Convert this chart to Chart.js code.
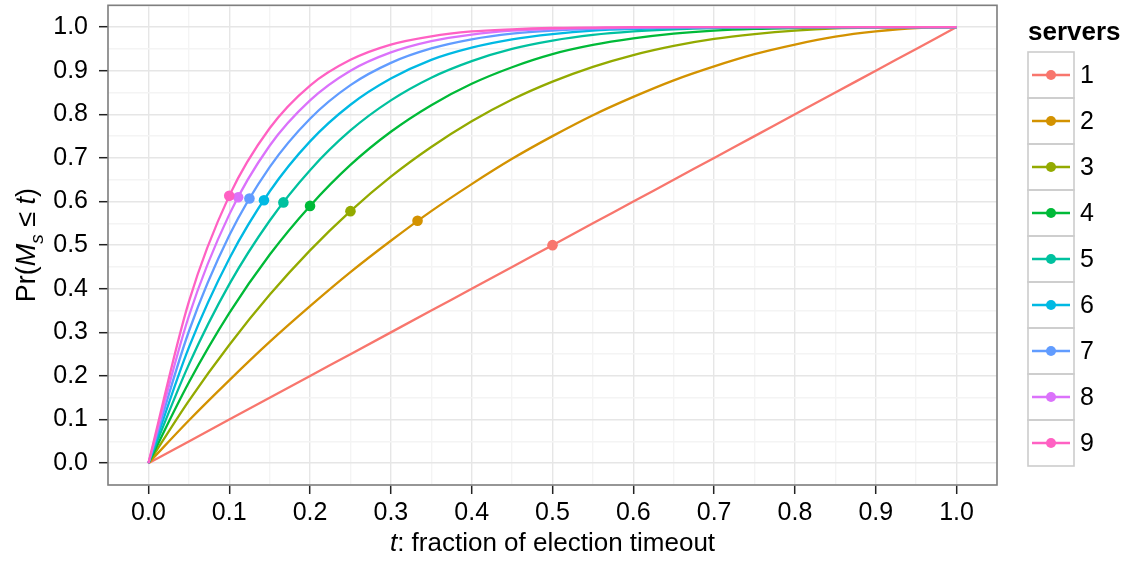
<!DOCTYPE html>
<html lang="en">
<head>
<meta charset="UTF-8">
<title>Pr(Ms ≤ t) by number of servers</title>
<script src="https://cdn.jsdelivr.net/npm/chart.js"></script>
<style>
  html, body { margin: 0; padding: 0; background: #fff; }
  #wrap { width: 1127px; height: 562px; }
</style>
</head>
<body>
<div id="wrap"><canvas id="chart" width="1127" height="562"></canvas></div>
<script>
// x positions (fraction of election timeout) at which the curves were read
var tGrid = [0, 0.05, 0.1, 0.15, 0.2, 0.25, 0.3, 0.35, 0.4, 0.45, 0.5, 0.55, 0.6, 0.65, 0.7, 0.75, 0.8, 0.85, 0.9, 0.95, 1];

// Pr(Ms <= t) for each number of servers
var pr1 = [0, 0.05, 0.1, 0.15, 0.2, 0.25, 0.3, 0.35, 0.4, 0.45, 0.5, 0.55, 0.6, 0.65, 0.7, 0.75, 0.8, 0.85, 0.9, 0.95, 1];
var pr2 = [0, 0.098, 0.19, 0.278, 0.36, 0.438, 0.51, 0.578, 0.64, 0.698, 0.75, 0.798, 0.84, 0.878, 0.91, 0.938, 0.96, 0.978, 0.99, 0.998, 1];
var pr3 = [0, 0.143, 0.271, 0.386, 0.488, 0.578, 0.657, 0.725, 0.784, 0.834, 0.875, 0.909, 0.936, 0.957, 0.973, 0.984, 0.992, 0.997, 0.999, 1, 1];
var pr4 = [0, 0.185, 0.344, 0.478, 0.59, 0.684, 0.76, 0.821, 0.87, 0.908, 0.938, 0.959, 0.974, 0.985, 0.992, 0.996, 0.998, 0.999, 1, 1, 1];
var pr5 = [0, 0.226, 0.41, 0.556, 0.672, 0.763, 0.832, 0.884, 0.922, 0.95, 0.969, 0.982, 0.99, 0.995, 0.998, 0.999, 1, 1, 1, 1, 1];
var pr6 = [0, 0.265, 0.469, 0.623, 0.738, 0.822, 0.882, 0.925, 0.953, 0.972, 0.984, 0.992, 0.996, 0.998, 0.999, 1, 1, 1, 1, 1, 1];
var pr7 = [0, 0.302, 0.522, 0.679, 0.79, 0.867, 0.918, 0.951, 0.972, 0.985, 0.992, 0.996, 0.998, 0.999, 1, 1, 1, 1, 1, 1, 1];
var pr8 = [0, 0.337, 0.57, 0.728, 0.832, 0.9, 0.942, 0.968, 0.983, 0.992, 0.996, 0.998, 0.999, 1, 1, 1, 1, 1, 1, 1, 1];
var pr9 = [0, 0.37, 0.613, 0.768, 0.866, 0.925, 0.96, 0.979, 0.99, 0.995, 0.998, 0.999, 1, 1, 1, 1, 1, 1, 1, 1, 1];

var serverLabels = ['1', '2', '3', '4', '5', '6', '7', '8', '9'];
var seriesColors = ['#F8766D', '#D39200', '#93AA00', '#00BA38', '#00C19F', '#00B9E3', '#619CFF', '#DB72FB', '#FF61C3'];

// the dot on each curve
var markerT = [0.5, 0.333, 0.25, 0.2, 0.167, 0.143, 0.125, 0.111, 0.1];
var markerPr = [0.5, 0.556, 0.578, 0.59, 0.598, 0.603, 0.607, 0.61, 0.613];

var FONT = '"Liberation Sans", Arial, Helvetica, sans-serif';
var TICK_SIZE = 25;
var TITLE_SIZE = 26;

var allSeries = [pr1, pr2, pr3, pr4, pr5, pr6, pr7, pr8, pr9];

function isMajor(v) {
  return Math.round(v * 20) % 2 === 0;
}

var datasets = [];
// dots first so they sit on top of every line
datasets.push({
  label: 'markers',
  data: markerT.map(function(t, i) { return { x: t, y: markerPr[i] }; }),
  showLine: false,
  pointRadius: 5.3,
  pointBorderWidth: 0,
  pointBackgroundColor: seriesColors,
  order: 0
});
allSeries.forEach(function(vals, i) {
  datasets.push({
    label: serverLabels[i],
    data: tGrid.map(function(t, j) { return { x: t, y: vals[j] }; }),
    showLine: true,
    borderColor: seriesColors[i],
    borderWidth: 2.3,
    pointRadius: 0,
    cubicInterpolationMode: 'monotone',
    order: 20 - i
  });
});

function partFont(p, size) {
  var s = p.sub ? Math.round(size * 0.72) : size;
  return (p.italic ? 'italic ' : '') + (p.bold ? 'bold ' : '') + s + 'px ' + FONT;
}
function richWidth(ctx, parts, size) {
  var w = 0;
  parts.forEach(function(p) { ctx.font = partFont(p, size); w += ctx.measureText(p.text).width; });
  return w;
}
function drawRich(ctx, parts, size, cx, baseY) {
  var x = cx - richWidth(ctx, parts, size) / 2;
  ctx.textAlign = 'left';
  ctx.textBaseline = 'alphabetic';
  parts.forEach(function(p) {
    ctx.font = partFont(p, size);
    ctx.fillText(p.text, x, baseY + (p.sub ? size * 0.3 : 0));
    x += ctx.measureText(p.text).width;
  });
}

var decorPlugin = {
  id: 'decor',
  afterDatasetsDraw: function(chart) {
    var ctx = chart.ctx;
    var a = chart.chartArea;
    ctx.save();
    // panel border
    ctx.strokeStyle = '#7F7F7F';
    ctx.lineWidth = 1.6;
    ctx.strokeRect(a.left, a.top, a.right - a.left, a.bottom - a.top);

    ctx.fillStyle = '#000';
    // x axis title
    drawRich(ctx, [
      { text: 't', italic: true },
      { text: ': fraction of election timeout' }
    ], TITLE_SIZE, (a.left + a.right) / 2, 551);

    // y axis title
    ctx.save();
    ctx.translate(35, (a.top + a.bottom) / 2);
    ctx.rotate(-Math.PI / 2);
    drawRich(ctx, [
      { text: 'Pr(' },
      { text: 'M', italic: true },
      { text: 's', italic: true, sub: true },
      { text: ' \u2264 ' },
      { text: 't', italic: true },
      { text: ')' }
    ], TITLE_SIZE + 1, 0, 0);
    ctx.restore();

    // legend
    ctx.font = 'bold ' + TITLE_SIZE + 'px ' + FONT;
    ctx.textAlign = 'left';
    ctx.textBaseline = 'alphabetic';
    ctx.fillText('servers', 1028, 40);
    var keyX = 1028, keyW = 46, keyH = 46, keyTop = 52;
    serverLabels.forEach(function(lab, i) {
      var y0 = keyTop + i * keyH;
      var cy = y0 + keyH / 2;
      ctx.strokeStyle = '#CCCCCC';
      ctx.lineWidth = 1.6;
      ctx.strokeRect(keyX, y0, keyW, keyH);
      ctx.strokeStyle = seriesColors[i];
      ctx.lineWidth = 2.6;
      ctx.beginPath();
      ctx.moveTo(keyX + 4, cy);
      ctx.lineTo(keyX + keyW - 4, cy);
      ctx.stroke();
      ctx.fillStyle = seriesColors[i];
      ctx.beginPath();
      ctx.arc(keyX + keyW / 2, cy, 5, 0, Math.PI * 2);
      ctx.fill();
      ctx.fillStyle = '#000';
      ctx.font = TICK_SIZE + 'px ' + FONT;
      ctx.textBaseline = 'middle';
      ctx.fillText(lab, keyX + keyW + 6, cy + 1);
      ctx.textBaseline = 'alphabetic';
    });
    ctx.restore();
  }
};

function gridColor(c) {
  return isMajor(c.tick.value) ? '#E6E6E6' : '#F4F4F4';
}
function tickColor(c) {
  return isMajor(c.tick.value) ? '#222' : 'rgba(0,0,0,0)';
}
function tickLabel(v) {
  return isMajor(v) ? v.toFixed(1) : '';
}

new Chart(document.getElementById('chart'), {
  type: 'scatter',
  data: { datasets: datasets },
  options: {
    responsive: false,
    animation: false,
    events: [],
    layout: { padding: { top: 5, right: 130, left: 0, bottom: 0 } },
    plugins: {
      legend: { display: false },
      tooltip: { enabled: false }
    },
    scales: {
      x: {
        type: 'linear',
        min: -0.05,
        max: 1.05,
        afterFit: function(s) { s.height = 77; s.paddingLeft = 0; s.paddingRight = 0; },
        border: { display: false },
        grid: { color: gridColor, lineWidth: 1.4, tickColor: tickColor, tickLength: 9, tickWidth: 1.5 },
        ticks: {
          stepSize: 0.05,
          autoSkip: false,
          maxRotation: 0,
          padding: 4,
          color: '#000',
          font: { family: FONT, size: TICK_SIZE },
          callback: tickLabel
        }
      },
      y: {
        type: 'linear',
        min: -0.05,
        max: 1.05,
        afterFit: function(s) { s.width = 108; s.paddingTop = 0; s.paddingBottom = 0; },
        border: { display: false },
        grid: { color: gridColor, lineWidth: 1.4, tickColor: tickColor, tickLength: 9, tickWidth: 1.5 },
        ticks: {
          stepSize: 0.05,
          autoSkip: false,
          padding: 11,
          color: '#000',
          font: { family: FONT, size: TICK_SIZE },
          callback: tickLabel
        }
      }
    }
  },
  plugins: [decorPlugin]
});
</script>
</body>
</html>
